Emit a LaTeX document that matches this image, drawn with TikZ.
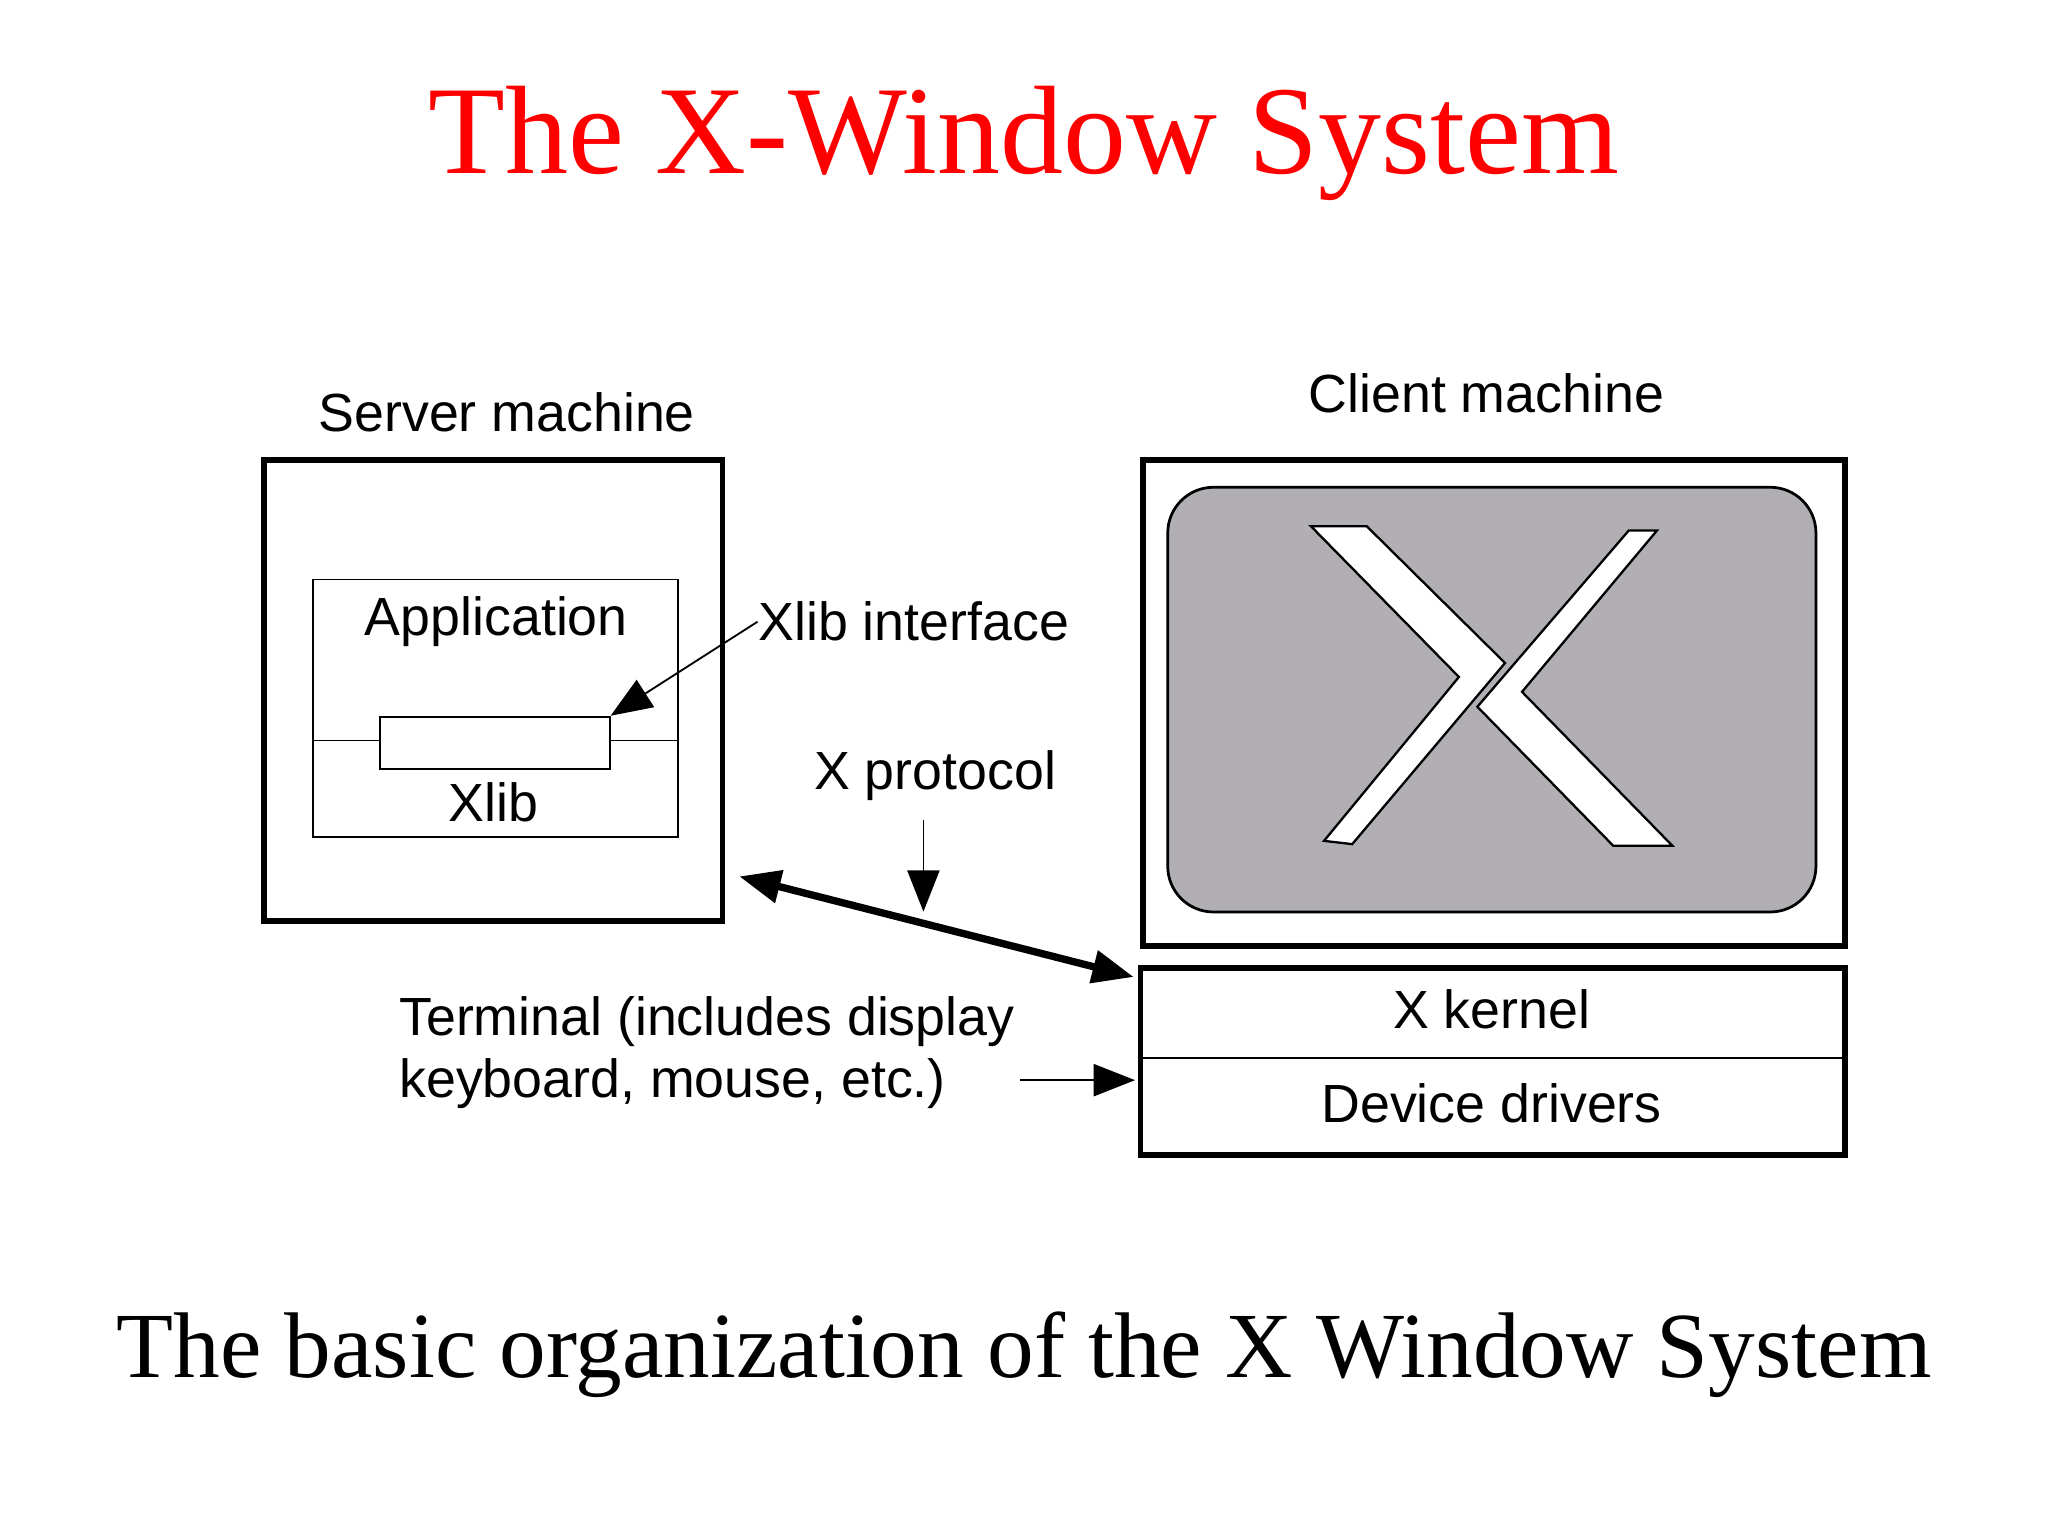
\documentclass[tikz,border=0pt]{standalone}
\usepackage{fontspec}
\setmainfont{Liberation Serif}
\newfontfamily\lsans{Liberation Sans}
\usetikzlibrary{arrows.meta}
\begin{document}
\begin{tikzpicture}[x=0.01cm,y=-0.01cm,
  lbl/.style={font=\lsans\fontsize{11.7}{13.4}\selectfont, inner sep=0pt},
  box/.style={draw, line width=1.2pt, anchor=north west, inner sep=0pt},
  thin/.style={draw, line width=0.4pt, anchor=north west, inner sep=0pt},
  big/.style={-{Triangle[length=9pt,width=7pt]}},
  bigb/.style={{Triangle[length=9pt,width=7pt]}-{Triangle[length=9pt,width=7pt]}}]
\useasboundingbox (0,0) rectangle (1568,1176);
\node[text=red, font=\fontsize{27.4}{33}\selectfont] (title) at (784,110) {The X-Window System};
\node[font=\fontsize{20.3}{25}\selectfont] (cap) at (784,1037) {The basic organization of the X Window System};
% server
\node[lbl] (slab) at (388,316) {Server machine};
\node[box, minimum width=3.51cm, minimum height=3.53cm] (server) at (200,350) {};
\node[thin, minimum width=2.79cm, minimum height=1.97cm] (app) at (239,443) {};
\node[thin, minimum width=1.76cm, minimum height=0.40cm] (xif) at (290,548) {};
\draw[line width=0.4pt] (239,567) -- (290,567) (466,567) -- (518,567);
\node[lbl] (applab) at (380,476) {Application};
\node[lbl] (xliblab) at (378,614) {Xlib};
\node[lbl, anchor=west] (xiflab) at (580,476) {Xlib interface};
\draw[line width=0.4pt, big] (xiflab.west) -- (xif.north east);
% client
\node[lbl] (clab) at (1138,301) {Client machine};
\node[box, minimum width=5.37cm, minimum height=3.72cm] (client) at (873,350) {};
\node[draw, line width=0.6pt, fill={rgb,255:red,177;green,175;blue,179}, rounded corners=0.35cm,
  anchor=north west, minimum width=4.96cm, minimum height=3.25cm, inner sep=0pt] (screen) at (893,372) {};
\draw[fill=white, line width=0.5pt] (1003.7,402.9) -- (1046.4,402.9) -- (1152.3,507.6) -- (1035.3,646.3) -- (1013.7,643.8) -- (1117.0,518.3) -- cycle;
\draw[fill=white, line width=0.5pt] (1247.0,406.2) -- (1268.6,406.2) -- (1165.3,529.7) -- (1280.5,647.6) -- (1235.2,647.6) -- (1131.1,541.1) -- cycle;
\node[box, minimum width=5.39cm, minimum height=1.43cm] (kernel) at (871,739) {};
\draw[line width=0.4pt] (871,810) -- (1410,810);
\node[lbl] (klab) at (1142,773) {X kernel};
\node[lbl] (dlab) at (1142,845) {Device drivers};
% protocol
\coordinate (pa) at (566,671);
\coordinate (pb) at (868,748);
\draw[line width=1.6pt, bigb] (pa) -- (pb);
\node[lbl] (plab) at (716,594) {X protocol};
\coordinate (pt) at (707,628);
\coordinate (ph) at (707,698);
\draw[line width=0.4pt, big] (pt) -- (ph);
\node[lbl, anchor=west, align=left] (tlab) at (305,806) {Terminal (includes display\\keyboard, mouse, etc.)};
\coordinate (ts) at (781,827);
\coordinate (te) at (869,827);
\draw[line width=0.4pt, big] (ts) -- (te);
\end{tikzpicture}
\end{document}
